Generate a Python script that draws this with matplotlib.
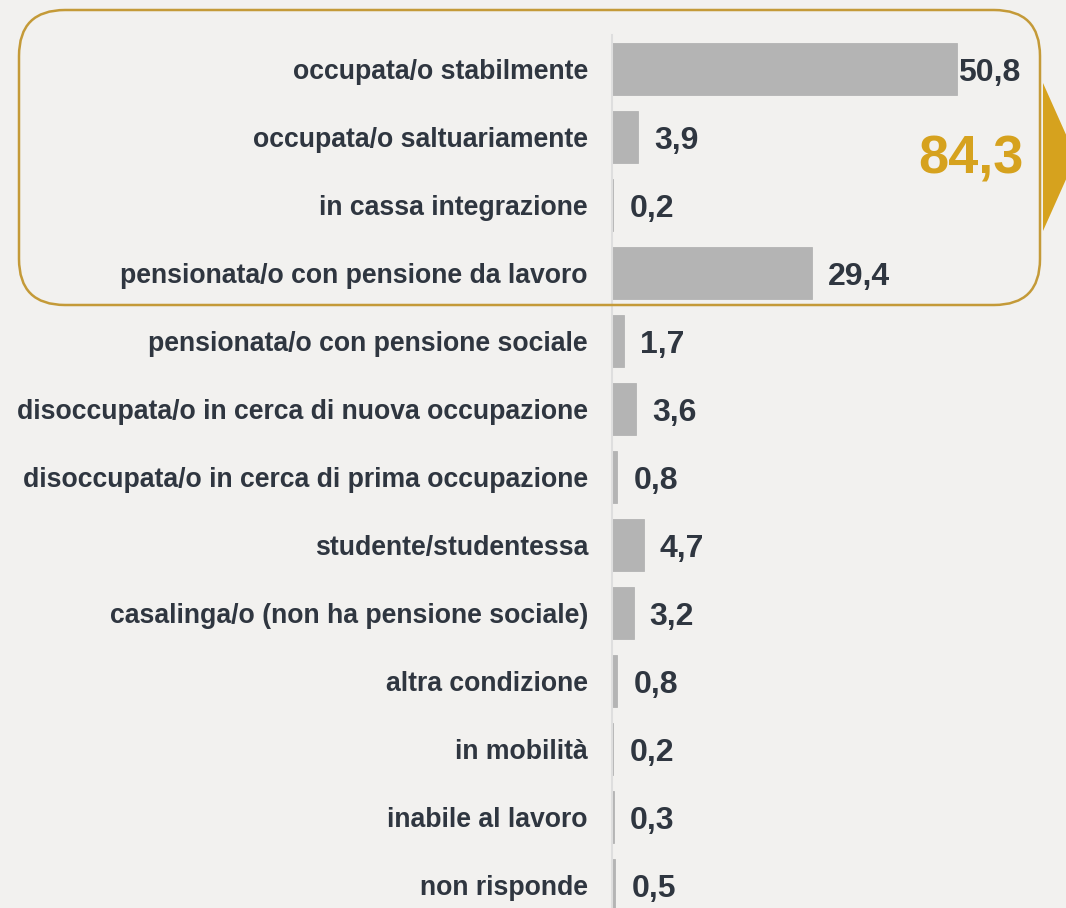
import matplotlib
matplotlib.use("Agg")
import matplotlib.pyplot as plt
from matplotlib.patches import FancyBboxPatch, Polygon
from matplotlib.transforms import IdentityTransform

categories = [
    "occupata/o stabilmente",
    "occupata/o saltuariamente",
    "in cassa integrazione",
    "pensionata/o con pensione da lavoro",
    "pensionata/o con pensione sociale",
    "disoccupata/o in cerca di nuova occupazione",
    "disoccupata/o in cerca di prima occupazione",
    "studente/studentessa",
    "casalinga/o (non ha pensione sociale)",
    "altra condizione",
    "in mobilità",
    "inabile al lavoro",
    "non risponde",
]
values = [50.8, 3.9, 0.2, 29.4, 1.7, 3.6, 0.8, 4.7, 3.2, 0.8, 0.2, 0.3, 0.5]
value_labels = ["50,8", "3,9", "0,2", "29,4", "1,7", "3,6", "0,8", "4,7", "3,2", "0,8", "0,2", "0,3", "0,5"]
highlight_total = "84,3"

BG = "#f2f1ef"
BAR = "#b4b4b4"
TXT = "#2f3640"
GOLD_LINE = "#c49a38"
GOLD = "#d6a21e"

plt.rcParams['font.family'] = ['Liberation Sans', 'DejaVu Sans']

W, H = 1066, 908
fig = plt.figure(figsize=(W / 100, H / 100), dpi=100, facecolor=BG)

# axes: left at x=612px, top at y=35px, row spacing 68px
ax_left = 612 / W
ax_top_px = 35
row_h = 68
n = len(categories)
ax_h_px = row_h * n
ax_bottom_px = ax_top_px + ax_h_px
ax = fig.add_axes([ax_left, (H - ax_bottom_px) / H, (W - 612) / W, ax_h_px / H])
ax.set_facecolor(BG)
ax.patch.set_alpha(0)

ypos = list(range(n))
ax.barh(ypos, values, height=52 / 68, color=BAR, zorder=2, linewidth=0.6, edgecolor=BAR)
ax.set_xlim(0, (W - 612) / 6.79)
ax.set_ylim(n - 0.5, -0.5)

for s in ["top", "right", "bottom"]:
    ax.spines[s].set_visible(False)
ax.spines["left"].set_color("#dedede")
ax.spines["left"].set_linewidth(1.5)
ax.set_xticks([])
ax.set_yticks(ypos)
ax.set_yticklabels(categories, fontsize=19.2, fontweight="bold", color=TXT)
ax.tick_params(axis="y", length=0, pad=17.3)

for i, (v, lab) in enumerate(zip(values, value_labels)):
    off = 1 if v > 45 else 16
    ax.annotate(lab, xy=(v, i), xytext=(off * 0.72, -8.3), textcoords="offset points",
                ha="left", va="baseline", fontsize=23, fontweight="bold", color=TXT)

# rounded highlight box (pixel coordinates)
box = FancyBboxPatch((19, H - 305), 1040 - 19, 305 - 10,
                     boxstyle="round,pad=0,rounding_size=46",
                     transform=IdentityTransform(), facecolor="none",
                     edgecolor=GOLD_LINE, linewidth=1.8, zorder=5)
fig.patches.append(box)

tri = Polygon([(1043, H - 83), (1043, H - 231), (1076, H - 157)], closed=True,
              transform=IdentityTransform(), facecolor=GOLD, edgecolor="none", zorder=5)
fig.patches.append(tri)

fig.text(971 / W, (H - 173) / H, highlight_total, ha="center", va="baseline",
         fontsize=39, fontweight="bold", color=GOLD)

fig.savefig("out.png", dpi=100, facecolor=BG)
